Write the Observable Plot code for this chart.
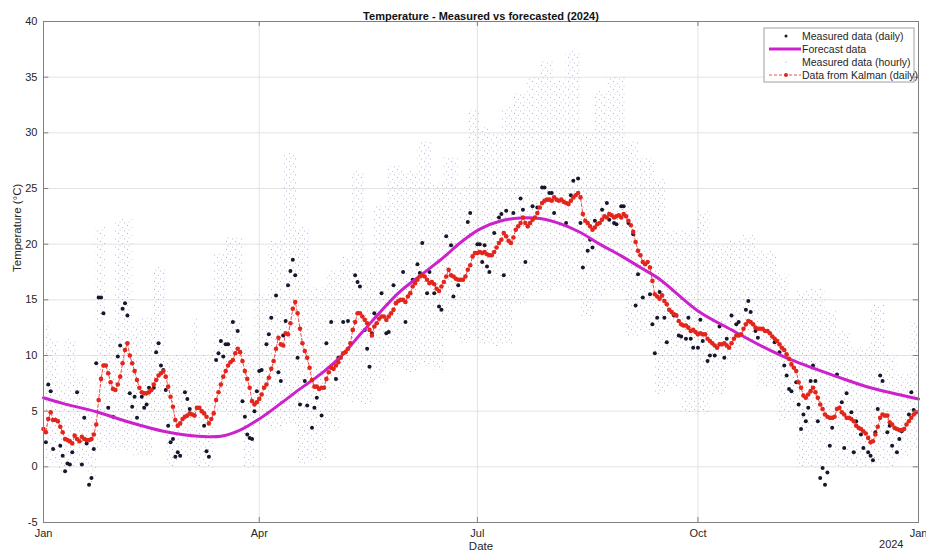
<!DOCTYPE html>
<html>
<head>
<meta charset="utf-8">
<script src="https://cdn.jsdelivr.net/npm/d3@7"></script>
<script src="https://cdn.jsdelivr.net/npm/@observablehq/plot@0.6"></script>
<style>
  html, body { margin: 0; padding: 0; background: #fff; }
</style>
</head>
<body>
<div id="chart"></div>
<script>
// ---------------- DATA ----------------
const titleText = "Temperature - Measured vs forecasted (2024)";
const xLabel = "Date";
const yLabel = "Temperature (°C)";
const yearLabel = "2024";
const xTickDates = ["2023-01-01", "2023-04-01", "2023-07-01", "2023-10-01", "2024-01-01"];
const xTickLabels = ["Jan", "Apr", "Jul", "Oct", "Jan"];
const yTicks = [-5, 0, 5, 10, 15, 20, 25, 30, 35, 40];
const legendLabels = ["Measured data (daily)", "Forecast data", "Measured data (hourly)", "Data from Kalman (daily)"];

// Kalman estimate, one value per day (day 0 = 1 Jan)
const kalmanTemp = [
  3.4,3.1,4.3,4.9,4.2,4.2,4.1,3.6,3.1,2.5,
  2.4,2.3,2.1,2.8,2.5,2.3,2.7,2.5,2.4,2.4,
  2.5,2.9,3.8,6.0,7.9,9.1,9.1,8.4,7.6,7.0,
  6.9,7.4,8.1,9.3,10.5,11.1,10.0,9.3,8.6,7.8,
  7.1,6.7,6.6,6.6,6.7,6.9,7.4,7.8,8.2,8.4,
  8.6,8.1,7.2,6.3,5.4,4.2,3.7,3.9,4.3,4.5,
  4.6,4.8,4.7,4.6,5.3,5.3,5.0,4.8,4.5,3.9,
  4.3,4.8,6.0,6.7,7.4,8.1,8.6,9.1,9.4,9.6,
  10.2,10.6,10.3,9.5,8.6,7.9,7.1,5.9,5.6,5.8,
  6.1,6.5,7.1,7.4,8.0,8.8,9.5,10.6,11.6,11.0,
  10.9,12.0,11.9,12.9,14.2,14.8,13.8,12.4,11.1,10.4,
  9.8,8.9,7.8,7.2,7.2,7.0,7.1,7.1,7.9,8.5,
  8.9,8.8,9.1,9.4,9.8,10.2,10.3,10.6,11.1,12.3,
  13.0,13.8,13.8,13.5,13.2,12.9,12.3,11.8,12.6,12.9,
  13.3,13.5,13.5,13.2,13.5,13.8,14.1,14.7,14.9,15.0,
  15.0,14.8,15.3,15.6,16.2,16.5,16.8,17.1,17.2,17.1,
  16.8,16.5,16.6,16.4,16.0,15.8,16.2,16.6,17.1,17.7,
  17.2,17.1,16.9,16.8,16.8,16.8,17.1,17.7,18.1,18.9,
  19.2,19.2,19.3,19.2,19.3,19.1,19.0,19.0,19.3,19.7,
  20.1,20.4,21.0,20.7,20.3,20.1,20.6,21.3,21.6,21.9,
  22.4,21.9,21.6,21.9,22.2,22.4,22.8,23.3,23.7,23.9,
  24.0,24.0,23.9,24.2,24.0,23.9,24.0,23.8,23.7,23.6,
  23.9,24.2,24.4,24.6,24.2,22.7,22.1,21.9,21.6,21.3,
  21.5,21.8,21.9,22.2,22.5,22.4,22.7,22.6,22.4,22.5,
  22.6,22.4,22.7,22.5,22.1,21.7,21.1,20.2,19.4,19.0,
  18.4,18.2,18.4,17.9,16.7,15.5,15.3,15.1,15.4,14.9,
  14.6,14.1,13.9,13.7,13.6,13.1,12.8,12.7,12.7,12.5,
  12.2,12.3,12.1,11.9,12.0,11.9,11.9,11.5,11.3,11.1,
  10.9,10.7,11.0,11.0,11.1,10.9,10.7,11.1,11.5,11.8,
  11.8,11.9,12.4,12.8,13.1,13.0,12.8,12.5,12.4,12.4,
  12.4,12.2,12.2,12.0,11.7,11.5,11.3,11.0,10.7,10.5,
  10.1,9.7,9.2,8.9,8.6,7.6,7.1,6.4,6.2,6.5,
  6.8,7.1,6.7,6.2,5.6,5.2,4.7,4.5,4.4,4.4,
  4.5,5.2,5.3,4.9,4.7,4.4,4.4,4.3,4.1,3.7,
  3.5,3.4,3.2,3.0,2.6,2.2,2.3,2.9,3.6,4.4,
  4.7,4.6,4.6,4.0,3.8,3.5,3.4,3.3,3.3,3.4,
  3.8,4.1,4.4,4.7,4.9
];

// Measured daily means (visible points): day of year and value
const dailyDay = [
  1,2,3,4,7,8,9,10,11,12,14,16,17,18,19,20,21,22,23,24,25,27,29,31,32,33,34,35,36,37,38,39,41,42,43,44,46,47,48,49,50,51,52,53,54,55,56,57,59,60,61,
  64,67,68,69,72,73,74,75,76,77,79,81,83,84,85,86,87,88,89,90,91,93,94,95,97,98,99,100,101,102,103,104,105,106,107,109,110,112,113,114,116,118,120,122,123,
  125,127,129,130,131,132,134,135,136,137,138,141,143,144,146,150,151,154,156,157,158,160,161,163,165,166,168,170,171,173,177,178,181,182,183,184,185,186,
  188,190,191,192,193,196,199,200,201,203,204,206,208,209,211,212,213,218,220,221,223,224,225,227,228,229,230,233,235,236,238,239,241,242,244,246,247,248,
  250,253,254,255,256,257,259,260,263,265,266,268,269,270,271,273,274,275,277,278,280,282,284,285,287,289,290,293,294,295,297,298,305,307,309,310,
  311,312,314,315,316,317,318,319,320,321,322,323,324,325,326,327,328,329,331,333,334,335,337,338,339,341,342,344,345,346,347,348,349,350,352,353,354,356,357,358,361,362,363
];
const dailyTemp = [
  2.2,7.4,6.8,1.6,1.9,1.0,-0.4,0.3,0.2,1.3,6.7,0.2,4.4,2.1,-1.6,-1.0,1.6,9.3,15.2,15.2,13.8,5.3,4.5,9.9,10.9,14.2,14.7,13.6,6.6,5.4,6.3,4.4,6.3,5.3,5.6,7.1,7.1,10.3,11.1,9.1,8.7,6.9,3.7,2.2,2.5,0.9,1.3,1.0,6.7,6.1,5.2,
  5.3,3.7,1.4,0.9,9.6,10.2,11.3,9.9,11.0,11.0,13.0,12.2,5.9,4.5,2.9,2.6,2.5,5.0,6.8,8.6,8.7,11.0,11.9,13.4,15.4,8.5,7.7,11.8,13.1,16.3,17.6,18.6,17.2,9.8,5.6,7.7,5.5,3.5,5.3,6.2,4.6,11.1,13.0,7.9,9.8,
  13.0,13.1,12.3,17.2,16.6,16.2,12.3,10.6,9.0,12.0,13.8,15.6,12.0,12.1,16.3,17.5,13.0,16.8,18.2,17.4,20.1,15.6,17.5,15.6,14.4,14.1,20.7,19.9,15.3,16.3,22.0,22.8,20.0,20.0,18.4,19.9,18.0,17.5,
  21.0,22.4,22.7,17.2,23.0,22.8,24.1,23.1,18.4,21.9,23.4,23.3,25.1,25.1,24.6,24.6,22.8,21.9,24.4,25.7,25.9,21.9,17.9,19.4,20.4,19.7,22.1,23.1,23.7,22.2,21.9,21.8,23.4,23.4,21.9,20.9,14.5,17.3,
  15.2,15.5,12.8,10.2,13.4,15.7,13.4,11.2,13.6,11.8,11.7,11.5,13.4,11.5,10.7,10.7,13.2,11.3,9.5,10.0,10.0,12.6,9.8,11.5,13.6,12.8,13.0,14.1,14.9,13.9,12.2,11.6,11.2,10.3,9.1,8.2,
  7.0,6.8,7.6,5.6,3.4,4.7,4.1,5.3,7.7,9.1,7.7,4.1,-1.0,-0.1,-1.6,-0.5,1.9,3.5,8.3,5.8,1.7,6.6,4.9,1.3,4.1,2.9,1.7,1.3,1.0,0.6,3.1,5.2,8.2,7.7,3.1,3.7,1.9,1.3,2.5,3.2,4.7,6.7,5.1
];

// Forecast curve read at these days
const forecastDay  = [0, 8, 22, 36, 50, 62, 74, 82, 90, 99, 107, 116, 124, 133, 148, 157, 166, 174, 182, 191, 199, 207, 216, 224, 232, 241, 249, 257, 273, 287, 300, 312, 331, 345, 365];
const forecastTemp = [6.2, 5.7, 4.95, 4.0, 3.2, 2.8, 2.75, 3.3, 4.3, 5.7, 7.0, 8.4, 9.9, 12.1, 15.6, 17.15, 18.65, 20.15, 21.35, 22.1, 22.35, 22.3, 21.8, 21.05, 20.0, 18.95, 17.9, 16.85, 14.0, 12.3, 10.8, 9.6, 8.1, 7.1, 6.1];

// Hourly measurements: spread (min / max) over groups of days
const hourlyStart = [0,3,6,9,14,19,22,26,30,37,41,46,51,56,62,65,71,76,83,88,94,100,106,111,118,124,129,134,138,144,150,156,162,167,173,177,182,186,191,196,202,207,213,218,224,230,235,243,249,255,260,266,273,278,285,292,298,306,311,314,320,326,331,337,345,351,356,362];
const hourlyEnd   = [3,6,9,14,19,22,26,30,37,41,46,51,56,62,65,71,76,83,88,94,100,106,111,118,124,129,134,138,144,150,156,162,167,173,177,182,186,191,196,202,207,213,218,224,230,235,243,249,255,260,266,273,278,285,292,298,306,311,314,320,326,331,337,345,351,356,362,365];
const hourlyMin   = [0.5,0.3,-0.5,0.0,0.0,-1.5,1.5,1.5,1.5,1.0,1.0,4.0,0.0,0.8,0.2,-0.1,5.0,4.4,-0.1,3.8,3.2,3.8,0.2,0.5,3.2,6.3,5.7,5.5,7.5,9.0,8.4,9.0,8.7,12.0,11.1,11.4,11.0,10.7,11.0,14.6,15.5,15.8,16.1,15.5,13.4,15.2,15.8,11.6,11.9,6.5,7.1,4.7,4.7,6.5,9.2,9.5,7.1,4.1,4.4,-0.1,-0.1,0.2,-0.1,-0.1,0.2,-0.1,0.8,1.4];
const hourlyMax   = [13.0,11.5,7.8,11.5,8.0,5.0,21.5,12.0,22.3,13.0,13.5,18.0,10.0,10.0,13.3,10.0,19.1,20.6,10.7,15.5,20.3,28.2,21.5,16.1,17.6,18.9,26.6,17.4,23.4,27.0,26.6,29.3,25.4,27.8,25.1,32.0,30.5,29.9,32.4,33.5,35.0,36.5,34.7,37.4,29.9,33.8,35.0,29.3,27.7,25.8,21.2,21.2,23.0,20.0,20.3,20.8,19.4,17.3,14.9,15.8,16.0,14.0,12.2,10.7,14.6,10.1,8.3,13.1];

// ---------------- BUILD ----------------
const FONT = "'Liberation Sans', Arial, Helvetica, sans-serif";
const t0 = Date.UTC(2023, 0, 1);
const toDate = d => new Date(t0 + d * 86400000);
const xTicks = xTickDates.map(s => new Date(s + "T00:00:00Z"));

const kalman = kalmanTemp.map((v, i) => ({date: toDate(i), temp: v}));
const daily = dailyDay.map((d, i) => ({date: toDate(d), temp: dailyTemp[i]}));
const forecast = forecastDay.map((d, i) => ({date: toDate(d), temp: forecastTemp[i]}));
const hourly = hourlyStart.map((s, i) => ({x1: toDate(s), x2: toDate(hourlyEnd[i]), y1: hourlyMin[i], y2: hourlyMax[i]}));

const AXIS = "#808080";
const GRID = "#e3e3e3";
const RED = "#e3261c";
const MAGENTA = "#cc22cc";
const BLACK = "#16162c";

const chart = Plot.plot({
  width: 926,
  height: 558,
  marginLeft: 43,
  marginRight: 8,
  marginTop: 21,
  marginBottom: 36,
  style: {background: "#fff", fontFamily: FONT, fontSize: "11px", color: "#262626"},
  x: {type: "utc", domain: [toDate(0), toDate(365)], label: null, axis: null},
  y: {domain: [-5, 40], label: null, axis: null},
  marks: [
    Plot.gridY(yTicks, {stroke: GRID, strokeOpacity: 1}),
    Plot.gridX(xTicks, {stroke: GRID, strokeOpacity: 1}),
    Plot.rect(hourly, {x1: "x1", x2: "x2", y1: "y1", y2: "y2", fill: "url(#hourlyDots)"}),
    Plot.dot(daily, {x: "date", y: "temp", r: 2, fill: BLACK, stroke: null}),
    Plot.line(forecast, {x: "date", y: "temp", curve: "catmull-rom", stroke: MAGENTA, strokeWidth: 3}),
    Plot.line(kalman, {x: "date", y: "temp", stroke: RED, strokeWidth: 0.8, strokeDasharray: "3,2"}),
    Plot.dot(kalman, {x: "date", y: "temp", r: 2.3, fill: RED, stroke: null}),
    // inner tick marks (left, right, bottom, top)
    Plot.ruleY(yTicks, {x1: toDate(0), x2: toDate(2.2), stroke: AXIS}),
    Plot.ruleY(yTicks, {x1: toDate(362.8), x2: toDate(365), stroke: AXIS}),
    Plot.ruleX(xTicks, {y1: -5, y2: -4.55, stroke: AXIS}),
    Plot.ruleX(xTicks, {y1: 39.55, y2: 40, stroke: AXIS}),
    Plot.frame({stroke: AXIS}),
    Plot.axisY(yTicks, {tickSize: 0, tickPadding: 6, tickFormat: d => String(d), fontSize: 11, label: null}),
    Plot.axisX(xTicks, {tickSize: 0, tickPadding: 7, fontSize: 11, label: null,
      tickFormat: d => xTickLabels[xTicks.findIndex(t => +t === +d)]}),
    Plot.text([titleText], {text: d => d, frameAnchor: "top", dy: -9, fontWeight: "bold", fontSize: 11, fill: "#111"}),
    Plot.text([xLabel], {text: d => d, frameAnchor: "bottom", dy: 27, fontSize: 11.5, fill: "#262626"}),
    Plot.text([yearLabel], {text: d => d, frameAnchor: "bottom-right", dx: -15, dy: 25, fontSize: 11, fill: "#262626"}),
    Plot.text([yLabel], {text: d => d, frameAnchor: "left", rotate: -90, dx: -26, fontSize: 11.5, fill: "#262626"})
  ]
});

const svg = d3.select(chart);
svg.insert("defs", ":first-child").html(
  '<pattern id="hourlyDots" width="9" height="8" patternUnits="userSpaceOnUse">' +
  '<rect x="1" y="1" width="1" height="1" fill="#4040c8" fill-opacity="0.42"/>' +
  '<rect x="5" y="3" width="1" height="1" fill="#4040c8" fill-opacity="0.34"/>' +
  '<rect x="2.5" y="5.5" width="1" height="1" fill="#4040c8" fill-opacity="0.3"/>' +
  '<rect x="7" y="6.5" width="1" height="1" fill="#4040c8" fill-opacity="0.38"/>' +
  '</pattern>'
);

// Legend inside the axes (upper right)
const lg = svg.append("g").attr("font-family", FONT).attr("font-size", 10.5).attr("fill", "#262626").attr("text-anchor", "start");
lg.append("rect").attr("x", 764).attr("y", 28).attr("width", 150).attr("height", 54)
  .attr("fill", "#fff").attr("stroke", "#a0a0a0");
legendLabels.forEach((t, i) => {
  lg.append("text").attr("x", 802).attr("y", 36 + 13 * i).attr("dy", "0.35em").attr("text-anchor", "start").text(t);
});
lg.append("circle").attr("cx", 786).attr("cy", 36).attr("r", 1.5).attr("fill", BLACK);
lg.append("line").attr("x1", 769).attr("x2", 801).attr("y1", 49).attr("y2", 49).attr("stroke", MAGENTA).attr("stroke-width", 3);
lg.append("circle").attr("cx", 786).attr("cy", 62).attr("r", 0.6).attr("fill", "#8888dd");
lg.append("line").attr("x1", 769).attr("x2", 801).attr("y1", 75).attr("y2", 75).attr("stroke", RED).attr("stroke-width", 0.8).attr("stroke-dasharray", "3,2");
lg.append("circle").attr("cx", 786).attr("cy", 75).attr("r", 2).attr("fill", RED);

document.getElementById("chart").appendChild(chart);
</script>
</body>
</html>
